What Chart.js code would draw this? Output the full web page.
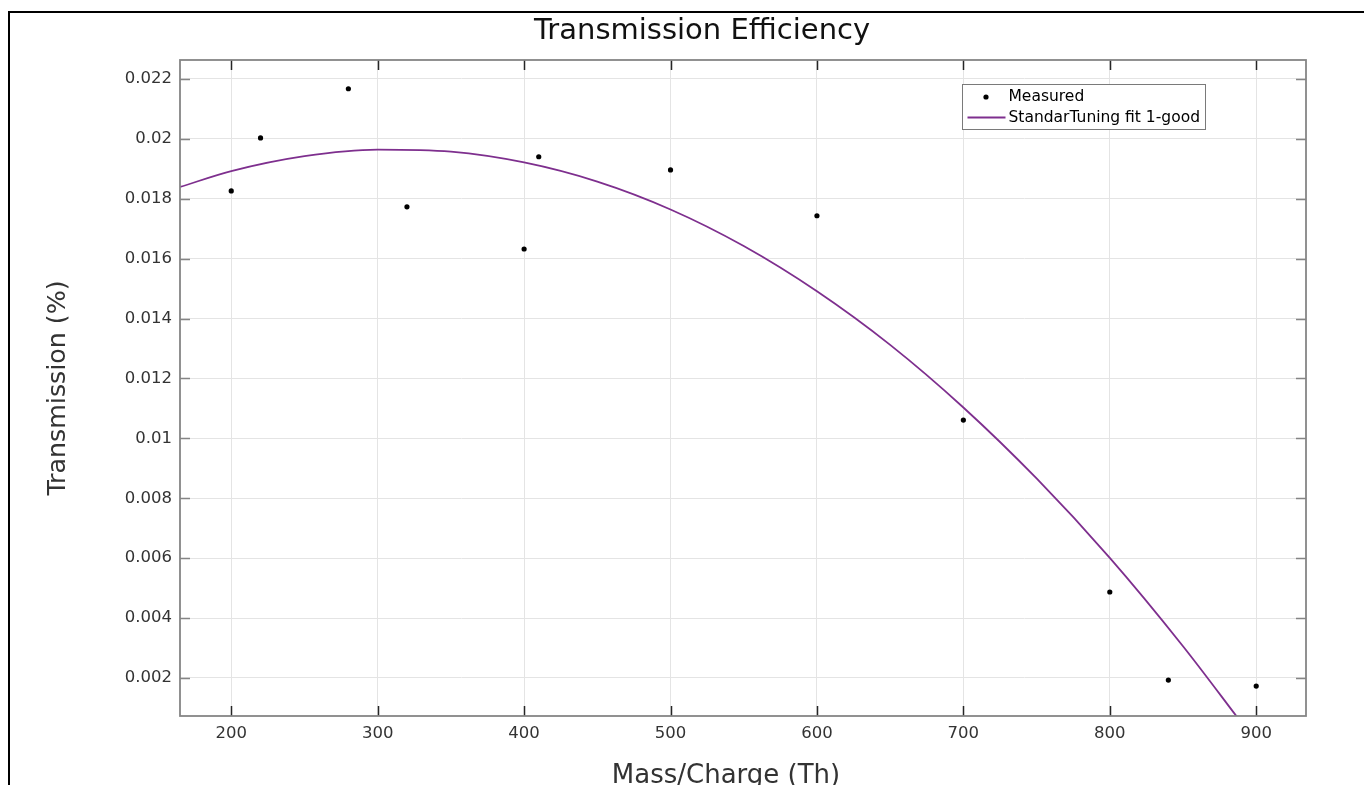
<!DOCTYPE html>
<html>
<head>
<meta charset="utf-8">
<script src="https://cdn.jsdelivr.net/npm/chart.js@4/dist/chart.umd.min.js"></script>
<style>
  html, body { margin: 0; padding: 0; background: #fff; overflow: hidden; width: 1364px; height: 785px; }
  #wrap { position: absolute; left: 0; top: 0; width: 1404px; height: 800px; }
  #frame { position: absolute; left: 8px; top: 11px; width: 1500px; height: 900px;
           border-left: 2px solid #000; border-top: 2px solid #000; pointer-events: none; }
</style>
</head>
<body>
<div id="wrap"><canvas id="c" width="1404" height="800"></canvas></div>
<div id="frame"></div>
<script>
// ---- data ----
const chartTitle = 'Transmission Efficiency';
const xAxisTitle = 'Mass/Charge (Th)';
const yAxisTitle = 'Transmission (%)';

const measuredLabel = 'Measured';
const massCharge   = [200, 220, 280, 320, 400, 410, 500, 600, 700, 800, 840, 900];
const transmission = [0.01826, 0.02003, 0.02167, 0.01773, 0.01632, 0.0194, 0.01896, 0.01743, 0.01061, 0.00487, 0.00193, 0.00173];

const fitLabel = 'StandarTuning fit 1-good';
const fitX = [165, 200, 250, 300, 350, 400, 450, 500, 550, 600, 650, 700, 750, 800, 850, 890];
const fitY = [0.01839, 0.01892, 0.01942, 0.01964, 0.01957, 0.01921, 0.01857, 0.01764, 0.01642, 0.01491, 0.01312, 0.01103, 0.00866, 0.00601, 0.00306, 0.0005];

const xTickValues = [200, 300, 400, 500, 600, 700, 800, 900];
const xTickLabels = ['200', '300', '400', '500', '600', '700', '800', '900'];
const yTickValues = [0.002, 0.004, 0.006, 0.008, 0.01, 0.012, 0.014, 0.016, 0.018, 0.02, 0.022];
const yTickLabels = ['0.002', '0.004', '0.006', '0.008', '0.01', '0.012', '0.014', '0.016', '0.018', '0.02', '0.022'];

const xRange = [165, 934];
const yRange = [0.00073, 0.02263];

// ---- styling ----
const FONT = '"DejaVu Sans", "Liberation Sans", sans-serif';
const AXIS_COLOR = '#858585';
const XTICK_COLOR = '#262626';
const GRID_COLOR = '#e4e4e4';
const LABEL_COLOR = '#333333';
const FIT_COLOR = '#7E2F8E';

const boxAndTicks = {
  id: 'boxAndTicks',
  afterDatasetsDraw(chart) {
    const {ctx, chartArea: a, scales: {x, y}} = chart;
    ctx.save();
    const tl = 10;
    ctx.strokeStyle = XTICK_COLOR;
    ctx.lineWidth = 1.5;
    x.ticks.forEach(t => {
      const px = Math.round(x.getPixelForValue(t.value)) + 0.5;
      ctx.beginPath();
      ctx.moveTo(px, a.bottom); ctx.lineTo(px, a.bottom - tl);
      ctx.moveTo(px, a.top); ctx.lineTo(px, a.top + tl);
      ctx.stroke();
    });
    ctx.strokeStyle = AXIS_COLOR;
    y.ticks.forEach(t => {
      const py = Math.round(y.getPixelForValue(t.value)) + 0.5;
      ctx.beginPath();
      ctx.moveTo(a.left, py); ctx.lineTo(a.left + tl, py);
      ctx.moveTo(a.right, py); ctx.lineTo(a.right - tl, py);
      ctx.stroke();
    });
    ctx.strokeStyle = AXIS_COLOR;
    ctx.lineWidth = 1.8;
    ctx.strokeRect(a.left, a.top, a.right - a.left, a.bottom - a.top);
    ctx.restore();
  },
  afterDraw(chart) {
    const {ctx, chartArea: a} = chart;
    ctx.save();
    // x axis title (sits left of the axes centre, as in the reference)
    ctx.font = '26px ' + FONT;
    ctx.fillStyle = LABEL_COLOR;
    ctx.textAlign = 'center';
    ctx.textBaseline = 'middle';
    ctx.fillText(xAxisTitle, (a.left + a.right) / 2 - 17, a.bottom + 60);

    // legend box
    const ds = chart.data.datasets;
    ctx.font = '15.5px ' + FONT;
    const textW = Math.max(...ds.map(d => ctx.measureText(d.label).width));
    const bw = Math.round(46 + textW + 6), bh = 45;
    const bx = a.right - 101 - bw + 0.5, by = a.top + 24 + 0.5;
    ctx.fillStyle = '#ffffff';
    ctx.fillRect(bx, by, bw, bh);
    ctx.strokeStyle = '#7a7a7a';
    ctx.lineWidth = 1;
    ctx.strokeRect(bx, by, bw, bh);
    ds.forEach((d, i) => {
      const cy = by + 12.5 + i * 20.5;
      if (d.showLine) {
        ctx.strokeStyle = d.borderColor;
        ctx.lineWidth = d.borderWidth;
        ctx.beginPath(); ctx.moveTo(bx + 5, cy); ctx.lineTo(bx + 43, cy); ctx.stroke();
      } else {
        ctx.fillStyle = d.backgroundColor;
        ctx.beginPath(); ctx.arc(bx + 23.5, cy, d.pointRadius, 0, Math.PI * 2); ctx.fill();
      }
      ctx.fillStyle = '#000';
      ctx.textAlign = 'left';
      ctx.textBaseline = 'middle';
      ctx.fillText(d.label, bx + 46, cy);
    });
    ctx.restore();
  }
};

new Chart(document.getElementById('c'), {
  type: 'scatter',
  data: {
    datasets: [
      {
        label: measuredLabel,
        data: massCharge.map((m, i) => ({x: m, y: transmission[i]})),
        showLine: false,
        pointRadius: 2.6,
        pointHoverRadius: 2.6,
        pointBorderWidth: 0,
        backgroundColor: '#000000',
        borderColor: '#000000',
        order: 0
      },
      {
        label: fitLabel,
        data: fitX.map((m, i) => ({x: m, y: fitY[i]})),
        showLine: true,
        cubicInterpolationMode: 'monotone',
        borderColor: FIT_COLOR,
        backgroundColor: FIT_COLOR,
        borderWidth: 1.8,
        pointRadius: 0,
        order: 1
      }
    ]
  },
  options: {
    responsive: false,
    animation: false,
    events: [],
    layout: { padding: { left: 0, right: 0, top: 0, bottom: 0 } },
    plugins: {
      legend: { display: false },
      tooltip: { enabled: false },
      title: {
        display: true,
        text: chartTitle,
        color: '#111111',
        font: { family: FONT, size: 29, weight: 'normal' },
        padding: { top: 14.5, bottom: 10.7 }
      }
    },
    scales: {
      x: {
        type: 'linear',
        min: xRange[0], max: xRange[1],
        afterBuildTicks: s => { s.ticks = xTickValues.map(v => ({value: v})); },
        afterFit: s => { s.height = 84; },
        ticks: {
          callback: (v, i) => xTickLabels[i],
          color: LABEL_COLOR,
          font: { family: FONT, size: 16.5 },
          padding: 8,
          maxRotation: 0
        },
        grid: { color: GRID_COLOR, lineWidth: 1, drawTicks: false },
        border: { display: false },
        title: { display: false }
      },
      y: {
        type: 'linear',
        min: yRange[0], max: yRange[1],
        afterBuildTicks: s => { s.ticks = yTickValues.map(v => ({value: v})); },
        afterFit: s => { s.width = 180; },
        ticks: {
          callback: (v, i) => yTickLabels[i],
          color: LABEL_COLOR,
          font: { family: FONT, size: 16.5 },
          padding: 8
        },
        grid: { color: GRID_COLOR, lineWidth: 1, drawTicks: false },
        border: { display: false },
        title: {
          display: true,
          text: yAxisTitle,
          color: LABEL_COLOR,
          font: { family: FONT, size: 25.3 },
          padding: { top: 43, bottom: 0 }
        }
      },
      yRightMargin: {
        type: 'linear',
        position: 'right',
        display: true,
        afterFit: s => { s.width = 98; },
        ticks: { display: false },
        grid: { display: false, drawTicks: false },
        border: { display: false },
        title: { display: false }
      }
    }
  },
  plugins: [boxAndTicks]
});
</script>
</body>
</html>
